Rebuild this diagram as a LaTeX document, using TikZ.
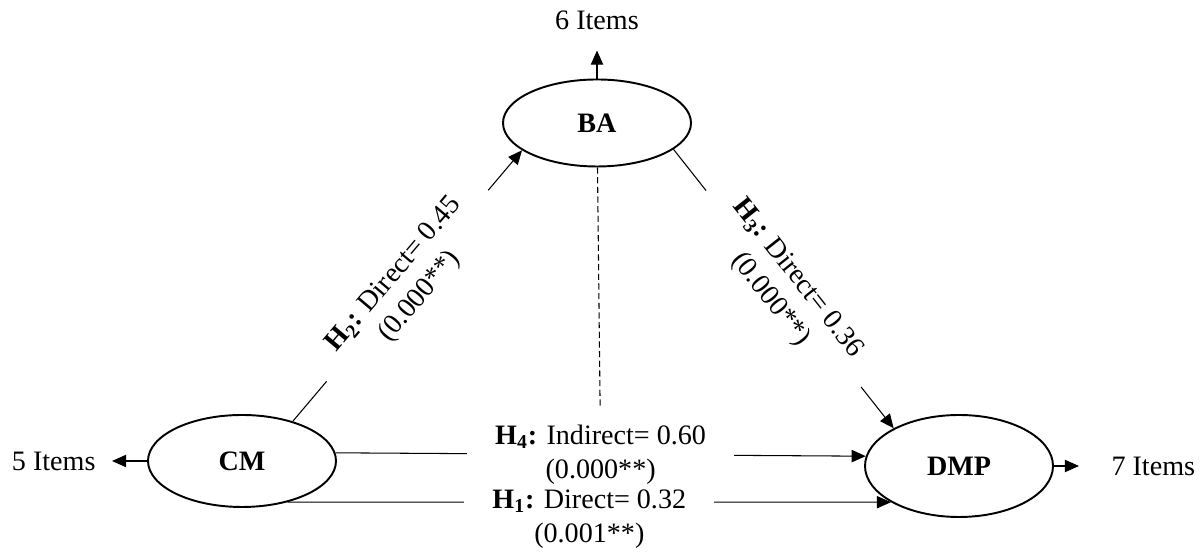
\documentclass[tikz,border=0pt]{standalone}
\usepackage{fontspec}
\setmainfont{Liberation Serif}
\usetikzlibrary{arrows.meta,positioning,shapes.geometric}

\begin{document}
\begin{tikzpicture}[->,>={Triangle[length=8pt,width=7pt]},semithick,font=\fontsize{16}{19.5}\selectfont]
  \tikzstyle{construct}=[ellipse,draw=black,line width=1.1pt,minimum width=3.76cm,font=\fontsize{16}{19.5}\selectfont\bfseries]
  \tikzstyle{items}=[inner sep=0pt]
  \tikzstyle{hyp}=[fill=white,align=center,inner xsep=16pt,inner ysep=2pt]

  \useasboundingbox (0,0) rectangle (24.08,11.04);

  \node[construct,minimum height=1.74cm] (BA)  at (11.94,8.58) {BA};
  \node[construct,minimum height=1.84cm] (CM)  at (4.84,1.82)  {CM};
  \node[construct,minimum height=2.04cm] (DMP) at (19.18,1.72) {DMP};

  \node[items] (i6) [above=0.96cm of BA]  {6 Items};
  \node[items] (i5) [left=1.02cm of CM]   {5 Items};
  \node[items] (i7) [right=1.14cm of DMP] {7 Items};

  % measurement items
  \draw[shorten >=0.4cm]  (BA.north) -- (i6.south);
  \draw[shorten >=0.32cm] (CM.west)  -- (i5.east);
  \draw[shorten >=0.64cm] (DMP.east) -- (i7.west);

  % hypotheses
  \draw (CM.38) -- node[hyp,sloped] (h2) {\textbf{H\textsubscript{2}:} Direct= 0.45\\(0.000**)} (BA.200);
  \draw (BA.-19) -- node[hyp,sloped] (h3) {\textbf{H\textsubscript{3}:} Direct= 0.36\\(0.000**)} (DMP.150);
  \draw (CM.5.5) -- node[hyp] (h4) {\textbf{H\textsubscript{4}:} Indirect= 0.60\\(0.000**)} (DMP.174.5);
  \draw (CM.-42.4) -- node[hyp,yshift=-9.5pt] (h1) {\textbf{H\textsubscript{1}:} Direct= 0.32\\(0.001**)} (DMP.208.9);

  \draw[-,dash pattern=on 3.5pt off 2pt,shorten >=8pt] (BA) -- (h4);
\end{tikzpicture}
\end{document}
